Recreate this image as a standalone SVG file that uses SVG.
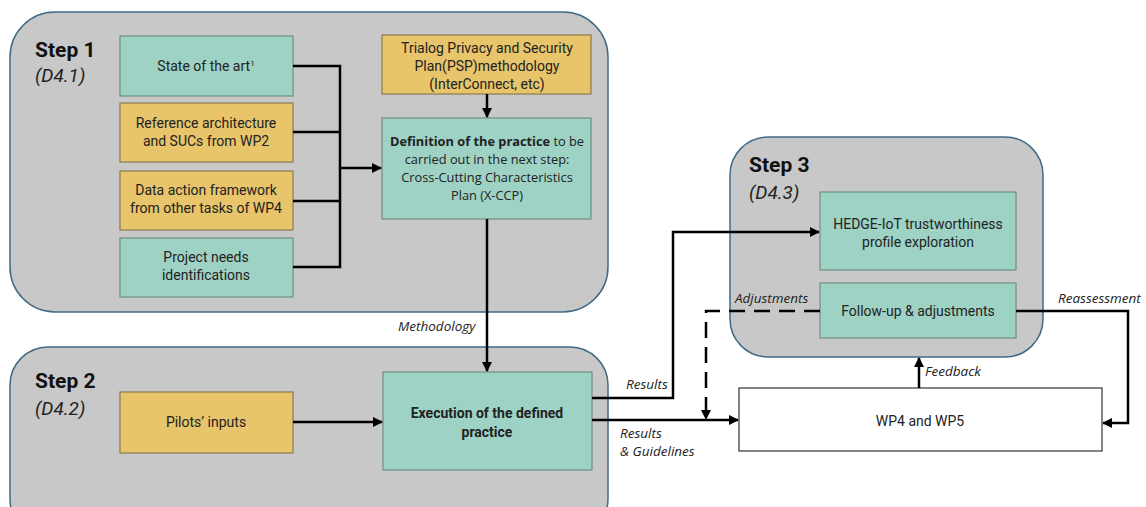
<svg xmlns="http://www.w3.org/2000/svg" width="1146" height="507" viewBox="0 0 1146 507">
<defs>
<marker id="ah" viewBox="0 0 10 10" refX="9" refY="5" markerWidth="4" markerHeight="4" orient="auto" markerUnits="strokeWidth"><path d="M0,0 L10,5 L0,10 z" fill="#000"/></marker>
<style>
.cont{fill:#c8c8c8;stroke:#3f6a85;stroke-width:1.5}
.g{fill:#9dd2c4;stroke:#6f8f84;stroke-width:1.2}
.y{fill:#e8c46a;stroke:#8a7a50;stroke-width:1.2}
.w{fill:#fff;stroke:#333;stroke-width:1.2}
.t{font-family:Roboto,"Liberation Sans",sans-serif;font-size:14px;fill:#222;text-anchor:middle}
.c{font-family:"Open Sans","Liberation Sans",sans-serif;font-size:12.8px;fill:#222;text-anchor:middle}
.h{font-family:Roboto,"Liberation Sans",sans-serif;font-size:21px;font-weight:bold;fill:#111}
.d{font-family:Roboto,"Liberation Sans",sans-serif;font-size:19px;font-style:italic;fill:#222}
.l{font-family:"Open Sans","Liberation Sans",sans-serif;font-size:13.5px;font-style:italic;fill:#222}
.cn{fill:none;stroke:#000;stroke-width:2.5}
</style>
</defs>
<g id="step1">
<rect class="cont" x="10" y="12" width="598" height="300" rx="45"/>
<text class="h" x="35" y="57">Step 1</text>
<text class="d" x="35" y="82">(D4.1)</text>
</g>
<g id="step2">
<rect class="cont" x="10" y="347" width="598" height="190" rx="38"/>
<text class="h" x="35" y="388">Step 2</text>
<text class="d" x="35" y="415">(D4.2)</text>
</g>
<g id="step3">
<rect class="cont" x="730" y="137" width="313" height="220" rx="38"/>
<text class="h" x="749" y="172">Step 3</text>
<text class="d" x="749" y="199">(D4.3)</text>
</g>
<g id="state-of-art">
<rect class="g" x="120" y="36" width="173" height="60"/>
<text class="t" x="206" y="71">State of the art<tspan font-size="8" dy="-5">1</tspan></text>
</g>
<g id="reference-architecture">
<rect class="y" x="120" y="103" width="173" height="59"/>
<text class="t" x="206" y="128">Reference architecture</text>
<text class="t" x="206" y="146">and SUCs from WP2</text>
</g>
<g id="data-action">
<rect class="y" x="120" y="171" width="173" height="59"/>
<text class="t" x="206" y="195">Data action framework</text>
<text class="t" x="206" y="213">from other tasks of WP4</text>
</g>
<g id="project-needs">
<rect class="g" x="120" y="238" width="173" height="59"/>
<text class="t" x="206" y="262">Project needs</text>
<text class="t" x="206" y="280">identifications</text>
</g>
<g id="trialog">
<rect class="y" x="382" y="35" width="209" height="59"/>
<text class="t" x="487" y="53">Trialog Privacy and Security</text>
<text class="t" x="487" y="71">Plan(PSP)methodology</text>
<text class="t" x="487" y="89">(InterConnect, etc)</text>
</g>
<g id="definition">
<rect class="g" x="382" y="118" width="209" height="101"/>
<text class="c" x="487" y="146"><tspan font-weight="bold">Definition of the practice</tspan> to be</text>
<text class="c" x="487" y="164">carried out in the next step:</text>
<text class="c" x="487" y="182">Cross-Cutting Characteristics</text>
<text class="c" x="487" y="200">Plan (X-CCP)</text>
</g>
<g id="pilots">
<rect class="y" x="120" y="392" width="173" height="61"/>
<text class="t" x="206" y="427">Pilots’ inputs</text>
</g>
<g id="execution">
<rect class="g" x="383" y="372" width="209" height="98"/>
<text class="t" x="487" y="418" font-weight="bold" font-size="13.5">Execution of the defined</text>
<text class="t" x="487" y="437" font-weight="bold" font-size="13.5">practice</text>
</g>
<g id="hedge">
<rect class="g" x="820" y="192" width="196" height="78"/>
<text class="t" x="918" y="229">HEDGE-IoT trustworthiness</text>
<text class="t" x="918" y="247">profile exploration</text>
</g>
<g id="followup">
<rect class="g" x="820" y="283" width="196" height="55"/>
<text class="t" x="918" y="316">Follow-up &amp; adjustments</text>
</g>
<g id="wp45">
<rect class="w" x="739" y="388" width="363" height="63"/>
<text class="t" x="920" y="426" font-size="13">WP4 and WP5</text>
</g>
<g id="connectors">
<polyline class="cn" points="293,66 340,66 340,267 293,267"/>
<line class="cn" x1="293" y1="132" x2="340" y2="132"/>
<line class="cn" x1="293" y1="201" x2="340" y2="201"/>
<line class="cn" x1="340" y1="168" x2="381" y2="168" marker-end="url(#ah)"/>
<line class="cn" x1="487" y1="94" x2="487" y2="117" marker-end="url(#ah)"/>
<line class="cn" x1="487" y1="219" x2="487" y2="371" marker-end="url(#ah)"/>
<line class="cn" x1="293" y1="422" x2="382" y2="422" marker-end="url(#ah)"/>
<polyline class="cn" points="592,398 673,398 673,232 819,232" marker-end="url(#ah)"/>
<line class="cn" x1="592" y1="420" x2="738" y2="420" marker-end="url(#ah)"/>
<polyline class="cn" points="820,311 706,311 706,419" stroke-dasharray="16,9" marker-end="url(#ah)"/>
<polyline class="cn" points="1016,311 1128,311 1128,423 1103,423" stroke-width="2" marker-end="url(#ah)"/>
<line class="cn" x1="919" y1="388" x2="919" y2="358" marker-end="url(#ah)"/>
<text class="l" x="398" y="331">Methodology</text>
<text class="l" x="626" y="389">Results</text>
<text class="l" x="620" y="438">Results</text>
<text class="l" x="620" y="456">&amp; Guidelines</text>
<text class="l" x="735" y="303">Adjustments</text>
<text class="l" x="1058" y="303">Reassessment</text>
<text class="l" x="925" y="376">Feedback</text>
</g>
</svg>
